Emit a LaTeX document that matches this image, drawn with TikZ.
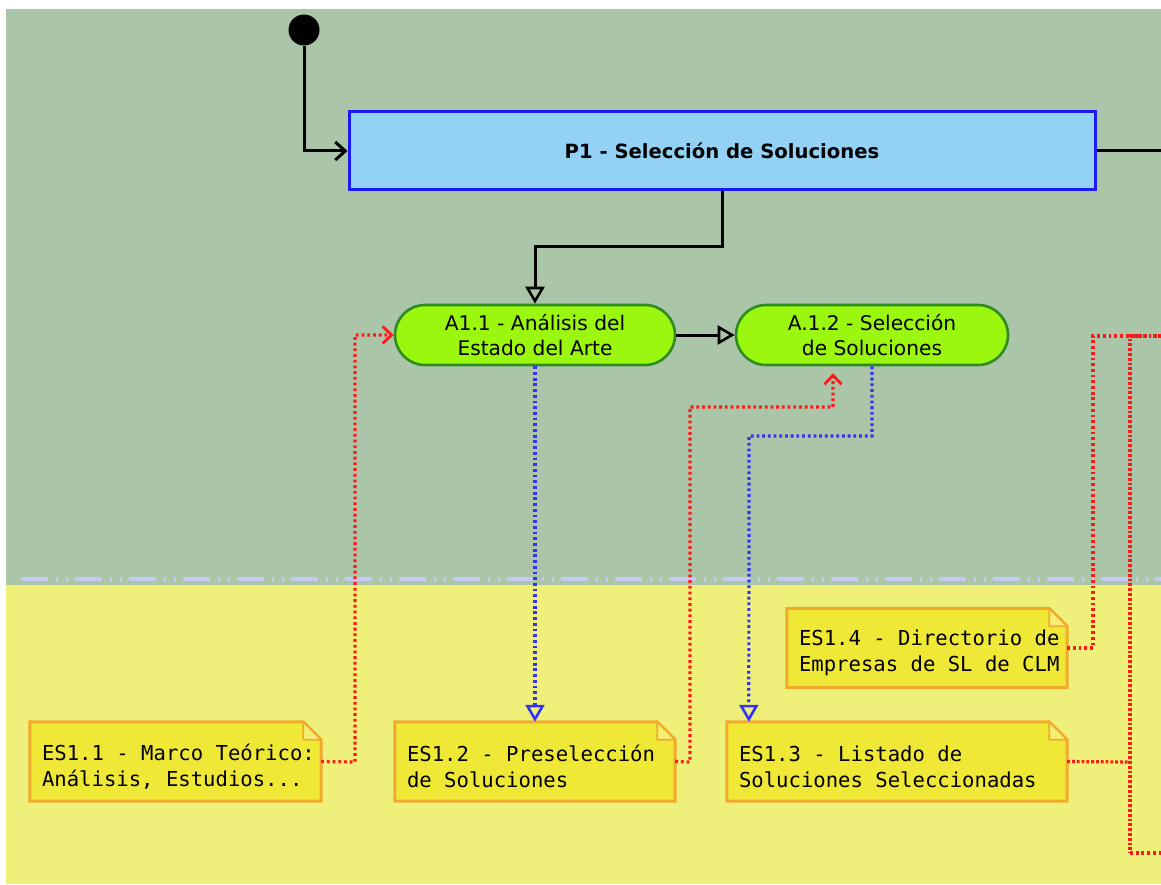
\documentclass[tikz,border=0pt]{standalone}
\usepackage{fontspec}
\setmainfont{DejaVu Sans}
\newfontfamily\notefont{DejaVu Sans Mono}
\usetikzlibrary{arrows.meta,calc}
\definecolor{bggreen}{HTML}{AAC5A7}
\definecolor{bgyellow}{HTML}{EFF07A}
\definecolor{pfill}{HTML}{94D2F5}
\definecolor{pborder}{HTML}{1A1AF5}
\definecolor{afill}{HTML}{9BF70F}
\definecolor{aborder}{HTML}{2E8B22}
\definecolor{nfill}{HTML}{F0E837}
\definecolor{nborder}{HTML}{F2AA2C}
\definecolor{sepcol}{HTML}{C8C8F8}
\definecolor{redline}{HTML}{FF1A1A}
\definecolor{blueline}{HTML}{3333F5}
\newcommand\notenudge{\rule{0pt}{26pt}}
\tikzset{
  process/.style={draw=pborder, fill=pfill, line width=3pt, minimum width=746pt, minimum height=78pt, inner sep=0pt,
    font=\fontsize{19.6}{24}\selectfont\bfseries},
  activity/.style={draw=aborder, fill=afill, line width=2.6pt, rounded corners=30pt, minimum height=60pt, inner sep=0pt,
    align=center, font=\fontsize{20.2}{25}\selectfont},
  note/.style={fill=none, draw=none, minimum height=79pt, inner sep=0pt, align=left,
    font=\notefont\fontsize{20.6}{26}\selectfont,
    execute at begin node={\leftskip=12pt\spaceskip=\fontdimen2\font},
    append after command={
      \pgfextra{
        \draw[draw=nborder, fill=nfill, line width=3pt]
          (\tikzlastnode.north west) -- ([xshift=-18pt]\tikzlastnode.north east)
          -- ([yshift=-18pt]\tikzlastnode.north east) -- (\tikzlastnode.south east)
          -- (\tikzlastnode.south west) -- cycle;
        \draw[draw=nborder, fill=nfill!70!white, line width=1.8pt, line join=round]
          ([xshift=-18pt]\tikzlastnode.north east) -- ([xshift=-18pt,yshift=-18pt]\tikzlastnode.north east)
          -- ([yshift=-18pt]\tikzlastnode.north east) -- cycle;
      }
    }},
  flow/.style={draw=black, line width=3pt},
  openarrow/.style={-{Straight Barb[length=10pt,width=18pt,line width=3pt]}},
  triarrow/.style={-{Triangle[open,length=17pt,width=19pt,line width=2.6pt]}},
  redflow/.style={draw=redline, line width=3.2pt, dash pattern=on 2.8pt off 2.9pt},
  reddense/.style={draw=redline, line width=3.2pt, dash pattern=on 2.8pt off 2pt},
  blueflow/.style={draw=blueline, line width=3.2pt, dash pattern=on 2.8pt off 2.9pt},
  redtip/.style={-{Straight Barb[length=9pt,width=17pt,line width=2.8pt]}},
}
\begin{document}
\begin{tikzpicture}[x=1pt,y=-1pt]
\useasboundingbox (0,0) rectangle (1161,885);
% backgrounds
\fill[bggreen] (6,9) rectangle (1161,585);
\fill[bgyellow] (6,585) rectangle (1161,884);
\draw[sepcol, line width=3.5pt, dash pattern=on 27pt off 8pt on 2pt off 8pt on 2pt off 7pt] (21,579) -- (1161,579);

% nodes
\node[circle, fill=black, minimum size=31pt, inner sep=0pt] (start) at (304,30) {};
\node[process] (P1) at (722,151) {P1 - Selección de Soluciones};
\node[activity, minimum width=280pt] (A11) at (535,335) {A1.1 - Análisis del\\Estado del Arte};
\node[activity, minimum width=272pt] (A12) at (872,335) {A.1.2 - Selección\\de Soluciones};

\node[note, text width=291pt] (ES11) at (175.5,761.5) {\notenudge ES1.1 - Marco Teórico:\\Análisis, Estudios...};
\node[note, text width=280pt] (ES12) at (535,761.5) {\notenudge ES1.2 - Preselección\\de Soluciones};
\node[note, text width=340pt] (ES13) at (897,761.5) {\notenudge ES1.3 - Listado de\\Soluciones Seleccionadas};
\node[note, text width=280pt] (ES14) at (927,648) {\notenudge ES1.4 - Directorio de\\Empresas de SL de CLM};

\coordinate (offP1) at (1161,151);
\coordinate (offTop) at (1161,336);
\coordinate (offBot) at (1161,853);
\coordinate (A12in) at ($(A12.south)+(-39,7)$);
\coordinate (ES13in) at ($(ES13.north west)+(22,0)$);

% black flows
\draw[flow, openarrow] (start.south) |- (P1.west);
\draw[flow] (P1.east) -- (offP1);
\draw[flow, triarrow] (P1.south) -- (722,247) -| (A11.north);
\draw[flow, triarrow] (A11.east) -- (A12.west);

% red dotted flows
\draw[redflow, redtip] (ES11.east) -- (355,762) |- (A11.west);
\draw[redflow, redtip] (ES12.east) -- (690,762) |- (833,407) -- (A12in);
\draw[redflow] (ES14.east) -- (1093,648) |- (offTop);
\draw[reddense] (ES13.east) -- (1130,762);
\draw[reddense] (offTop) -| (1130,853);
\draw[redflow] (1130,853) -- (offBot);

% blue dotted flows
\draw[blueflow, triarrow] (A11.south) -- (ES12.north);
\draw[blueflow, triarrow] (A12.south) |- (749,436) -- (ES13in);
\end{tikzpicture}
\end{document}
